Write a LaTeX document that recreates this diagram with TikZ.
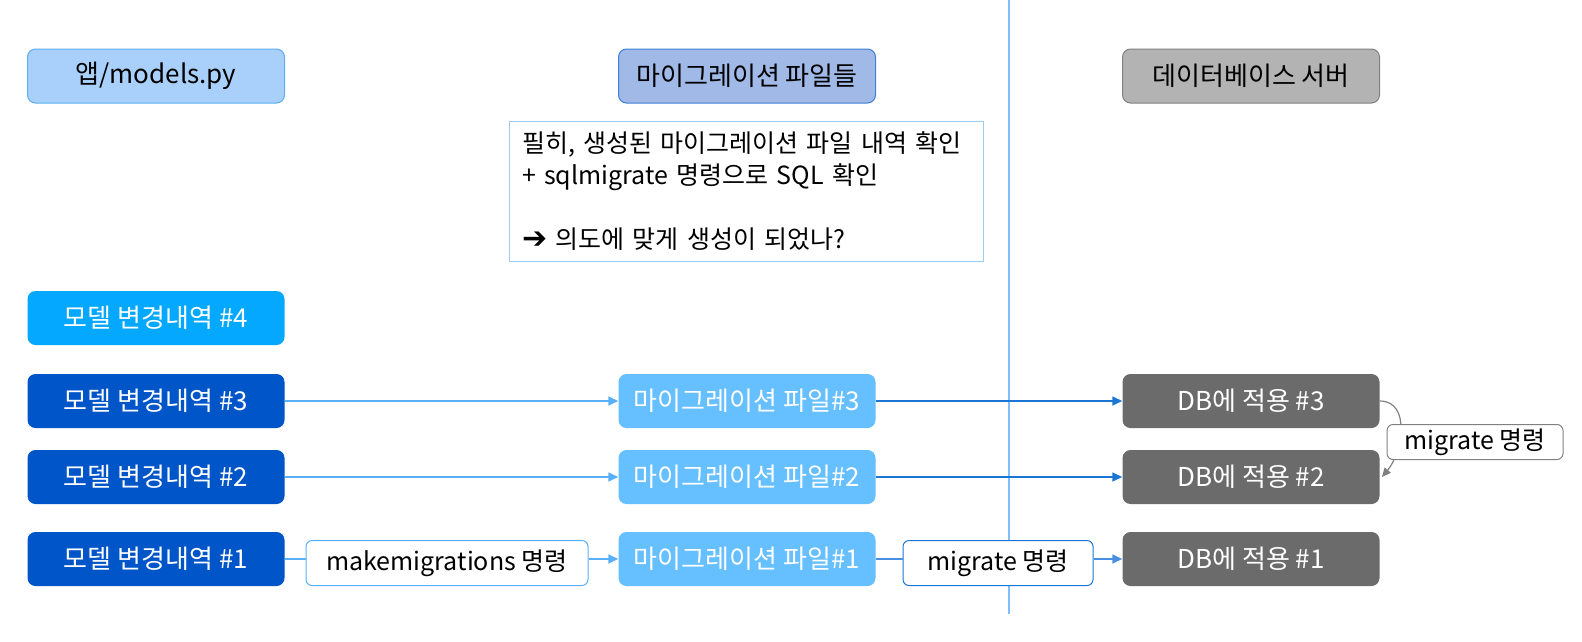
\documentclass[tikz,border=0pt]{standalone}
\usepackage{fontspec}
\setmainfont{Noto Sans CJK KR}
\newfontfamily\symbolfont{DejaVu Sans}
\usetikzlibrary{arrows.meta}

\definecolor{appfill}{HTML}{A9D0FB}
\definecolor{appedge}{HTML}{5BAEF0}
\definecolor{filesfill}{HTML}{A0B9E6}
\definecolor{filesedge}{HTML}{3F7FD8}
\definecolor{serverfill}{HTML}{B3B3B3}
\definecolor{serveredge}{HTML}{808080}
\definecolor{newmodel}{HTML}{05A8FF}
\definecolor{oldmodel}{HTML}{0055C8}
\definecolor{migfile}{HTML}{66BFFF}
\definecolor{dbapply}{HTML}{6B6B6B}
\definecolor{lightline}{HTML}{5AB0F8}
\definecolor{darkline}{HTML}{1A77D5}
\definecolor{midline}{HTML}{4A90E2}
\definecolor{divider}{HTML}{7FBFFF}
\definecolor{noteedge}{HTML}{9CCDF5}

\tikzset{
    box/.style={rounded corners=8pt, minimum width=257pt, minimum height=54pt,
        inner sep=0pt, font=\fontsize{26}{30}\selectfont},
    headbox/.style={box, line width=1pt},
    rowbox/.style={box, draw=none, text=white},
    cmdbox/.style={rounded corners=6pt, fill=white, line width=1pt,
        minimum height=45pt, inner sep=0pt, font=\fontsize{25}{28}\selectfont},
    tolight/.style={draw=lightline, line width=1.5pt},
    todark/.style={draw=darkline, line width=1.5pt},
    tip/.style={-{Triangle[length=10pt, width=9pt]}},
}

\begin{document}
\begin{tikzpicture}[x=1pt, y=-1pt]
    \useasboundingbox (0, 0) rectangle (1582, 641);
    % divider between files and server
    \coordinate (top) at (1009, 0);
    \coordinate (bottom) at (1009, 614);
    \draw [draw=divider, line width=2pt] (top) -- (bottom);
    % column headers
    \node [headbox, draw=appedge, fill=appfill] (app) at (156, 76) {앱/models.py};
    \node [headbox, draw=filesedge, fill=filesfill] (files) at (747, 76) {마이그레이션 파일들};
    \node [headbox, draw=serveredge, fill=serverfill] (server) at (1251, 76) {데이터베이스 서버};
    % note
    \node [draw=noteedge, line width=1pt, minimum width=474pt, minimum height=140pt,
        inner xsep=13pt, text width=448pt, align=left,
        font=\fontsize{25}{32}\selectfont] (note) at (746, 191) {%
        필히, 생성된 마이그레이션 파일 내역 확인\\
        + sqlmigrate 명령으로 SQL 확인\\[32pt]
        {\symbolfont\bfseries\fontsize{30}{32}\selectfont ➔} 의도에 맞게 생성이 되었나?};
    % model changes
    \node [rowbox, fill=newmodel] (m4) at (156, 318) {모델 변경내역 \#4};
    \node [rowbox, fill=oldmodel] (m3) at (156, 401) {모델 변경내역 \#3};
    \node [rowbox, fill=oldmodel] (m2) at (156, 477) {모델 변경내역 \#2};
    \node [rowbox, fill=oldmodel] (m1) at (156, 559) {모델 변경내역 \#1};
    % migration files
    \node [rowbox, fill=migfile] (f3) at (747, 401) {마이그레이션 파일\#3};
    \node [rowbox, fill=migfile] (f2) at (747, 477) {마이그레이션 파일\#2};
    \node [rowbox, fill=migfile] (f1) at (747, 559) {마이그레이션 파일\#1};
    % applied to db
    \node [rowbox, fill=dbapply] (d3) at (1251, 401) {DB에 적용 \#3};
    \node [rowbox, fill=dbapply] (d2) at (1251, 477) {DB에 적용 \#2};
    \node [rowbox, fill=dbapply] (d1) at (1251, 559) {DB에 적용 \#1};
    % rows 3 and 2
    \draw [tolight, tip] (m3) -- (f3);
    \draw [tolight, tip] (m2) -- (f2);
    \draw [todark, tip] (f3) -- (d3);
    \draw [todark, tip] (f2) -- (d2);
    % row 1 through the commands
    \node [cmdbox, draw=lightline, minimum width=282pt] (make) at (447, 563) {makemigrations 명령};
    \node [cmdbox, draw=darkline, minimum width=190pt] (mig) at (998, 563) {migrate 명령};
    \draw [tolight] (m1.east) -- (m1.east -| make.west);
    \draw [tolight, tip] (make.east |- f1) -- (f1.west);
    \draw [draw=midline, line width=1.5pt] (f1.east) -- (f1.east -| mig.west);
    \draw [draw=midline, line width=1.5pt, tip] (mig.east |- d1) -- (d1.west);
    % migrate between applied steps
    \coordinate (back) at (1382, 477);
    \draw [draw=serveredge, line width=1.2pt, -{Triangle[length=9pt, width=8pt]}]
        (d3.east) .. controls +(32, 0) and +(20, -24) .. (back);
    \node [cmdbox, draw=serveredge, minimum width=176pt, minimum height=35pt] (step) at (1475, 442) {migrate 명령};
\end{tikzpicture}
\end{document}
